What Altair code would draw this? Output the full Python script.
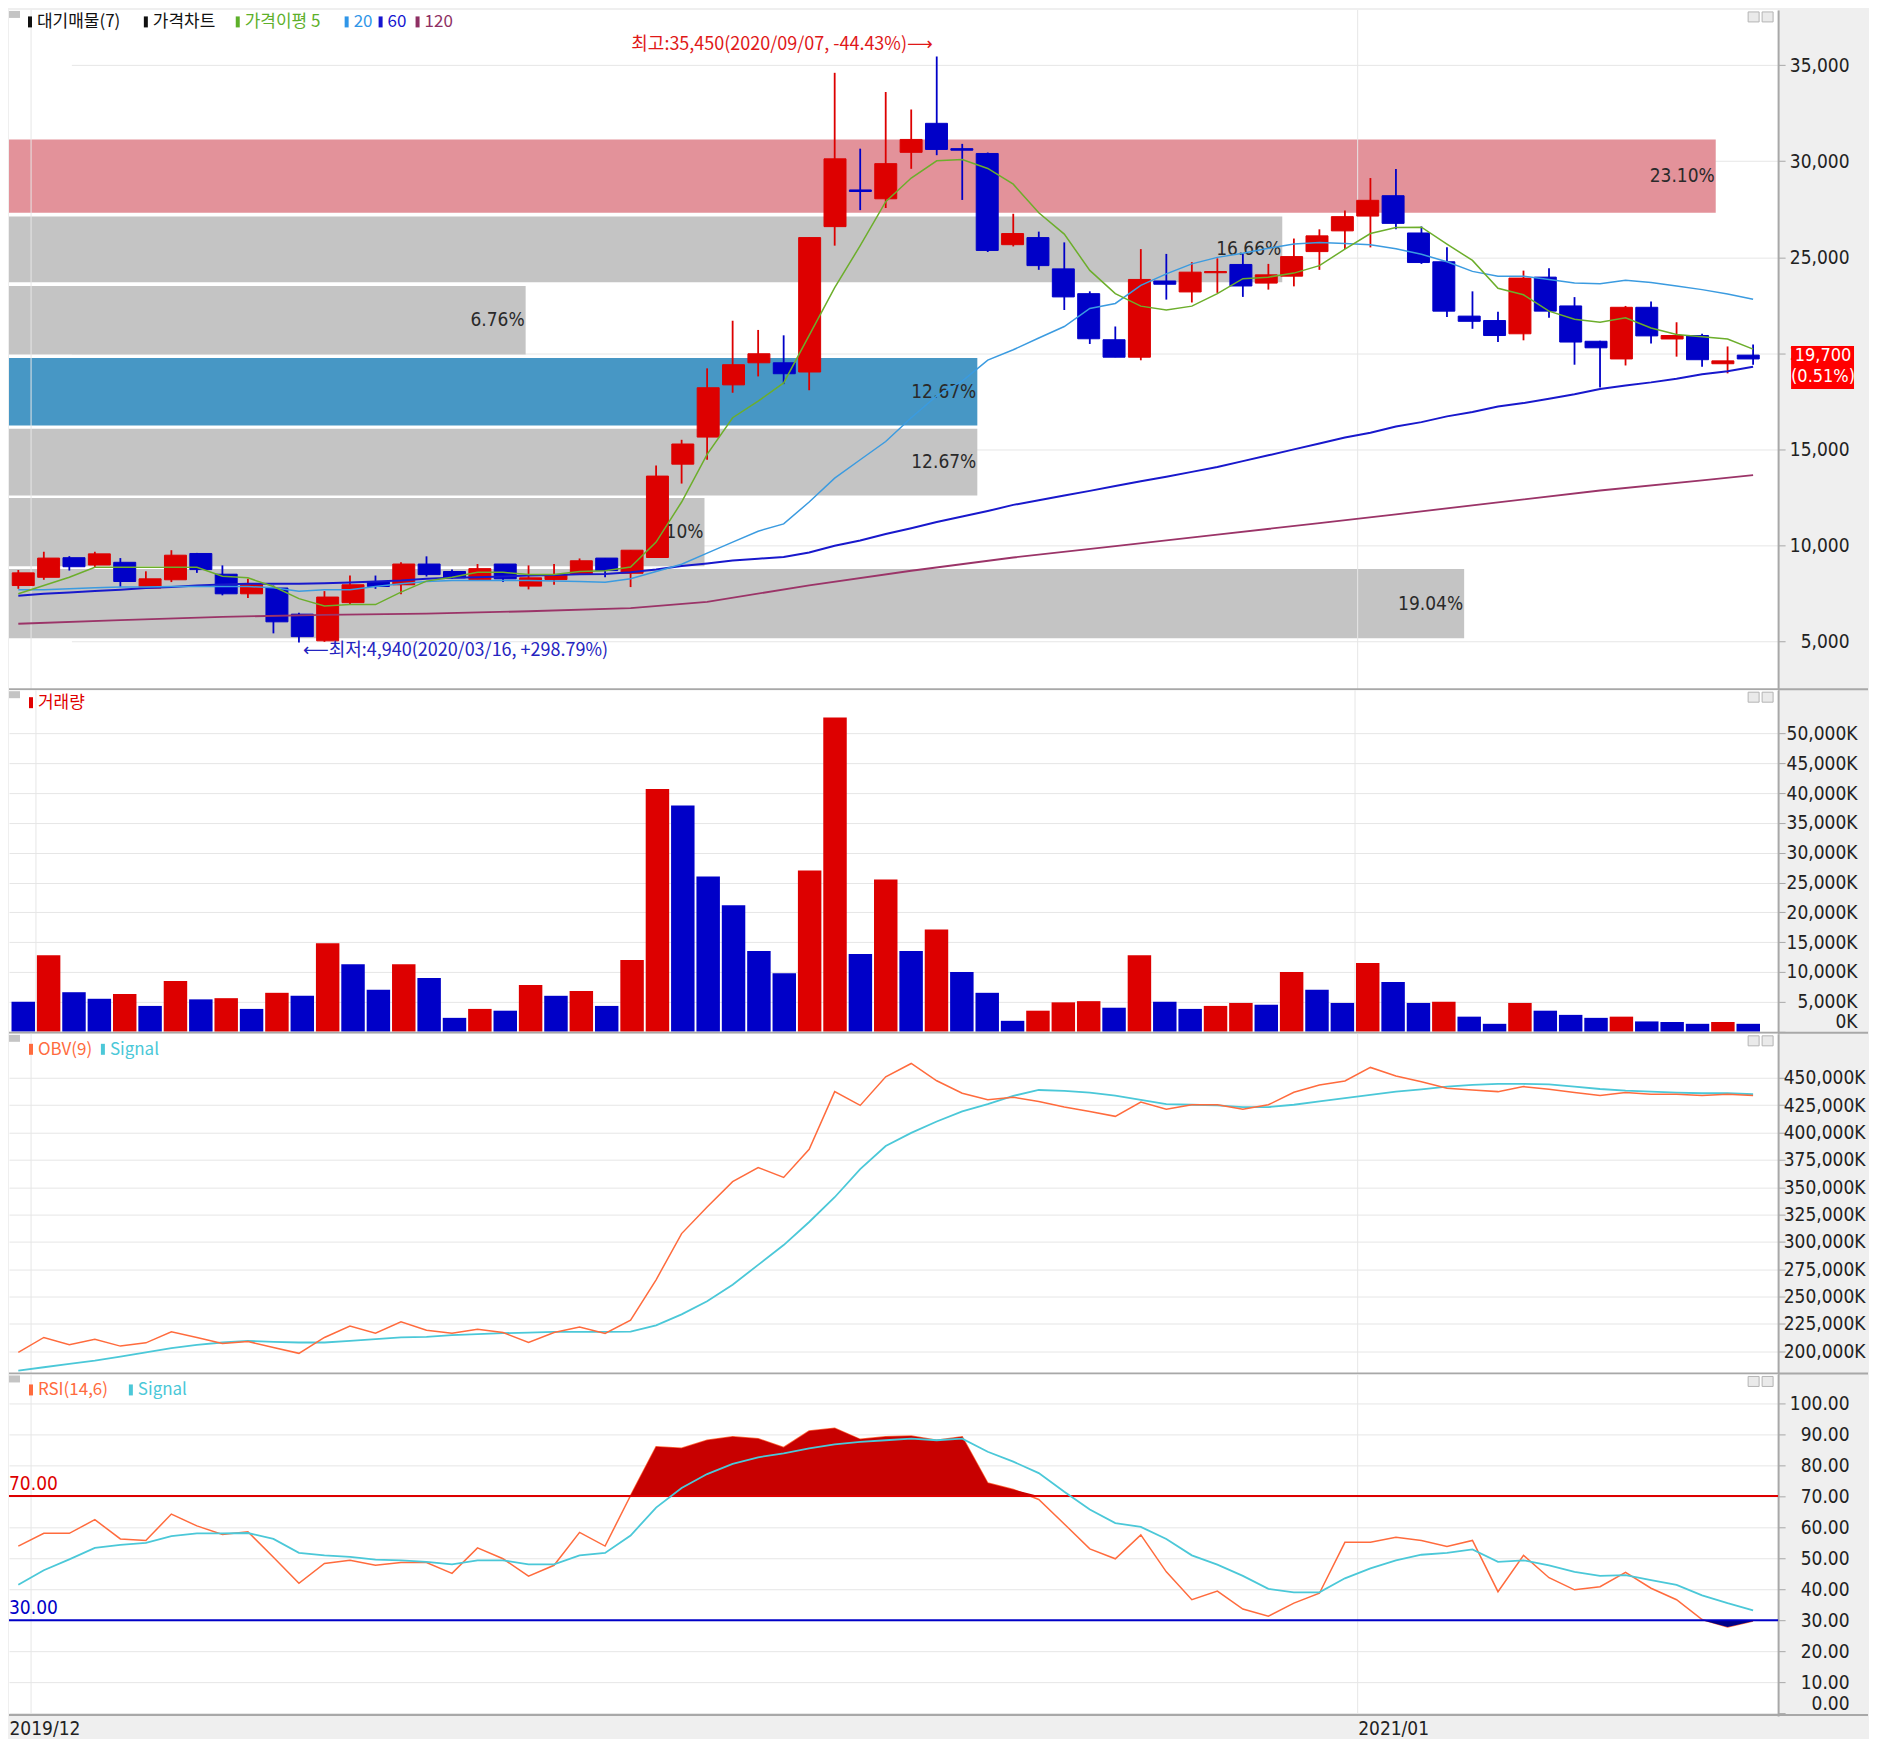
import altair as alt
import pandas as pd
import numpy as np

# weekly candles, KRW
opens = [7900, 8330, 9350, 8970, 9110, 7770, 8200, 9570, 8490, 7470,
         7770, 6410, 5020, 7010, 8080, 7940, 9020, 8630, 8210, 9020,
         7870, 8210, 8500, 9330, 8540, 9360, 14220, 15630, 18350, 19500,
         19500, 19020, 26590, 28500, 28040, 30460, 31970, 30650, 30400, 25650,
         26020, 24390, 23100, 20700, 19790, 23760, 23190, 24190, 24620, 23650,
         24010, 25290, 26370, 27140, 28200, 26260, 24760, 21930, 21700, 21010,
         23960, 22460, 20620, 19700, 22390, 20740, 20920, 19450, 19900]
highs = [8710, 9660, 9430, 9660, 9330, 8640, 9740, 9600, 8950, 8250,
         7900, 6480, 7610, 8420, 8420, 9110, 9420, 8730, 9020, 9020,
         8950, 9020, 9310, 9330, 9740, 14150, 15490, 19210, 21690, 21210,
         20930, 26020, 34600, 30650, 33600, 32690, 35450, 30900, 30450, 27260,
         26330, 25770, 23220, 21390, 25420, 25170, 24740, 24940, 25170, 24650,
         25970, 26450, 27430, 29120, 29590, 26600, 25520, 23220, 22160, 24300,
         24420, 22920, 20650, 22460, 22690, 21610, 21010, 20350, 20450]
lows = [7730, 8200, 8680, 8850, 7820, 7730, 8080, 8560, 7390, 7250,
        5410, 4940, 4970, 6910, 7730, 7440, 8370, 8250, 8160, 8080,
        7700, 7940, 8450, 8330, 7820, 9340, 13210, 14450, 17940, 18790,
        18390, 18070, 25600, 27450, 27560, 29600, 30310, 27980, 25270, 25560,
        24340, 22250, 20480, 19790, 19630, 22790, 22640, 23140, 22930, 23310,
        23480, 24340, 25420, 25510, 26450, 24650, 21890, 21270, 20580, 20670,
        21840, 19400, 18210, 19360, 20510, 19820, 19290, 18950, 19400]
closes = [8560, 9330, 8880, 9550, 8110, 8250, 9480, 8730, 7470, 7990,
          6010, 5240, 7300, 7940, 7850, 9020, 8470, 8300, 8780, 8250,
          8300, 8470, 9190, 8680, 9740, 13600, 15270, 18200, 19400, 19970,
          18930, 26020, 30120, 28420, 29870, 31130, 30610, 30570, 25350, 26230,
          24560, 22930, 20750, 19790, 23840, 23590, 24220, 24250, 23500, 24080,
          25030, 26110, 27110, 27960, 26760, 24720, 22190, 21660, 20920, 23910,
          22190, 20580, 20280, 22390, 20900, 20920, 19660, 19600, 19700]
# volume in thousand shares
volumes = [5000, 12800, 6600, 5500, 6300, 4300, 8500, 5400, 5600, 3800,
           6500, 6000, 14800, 11300, 7000, 11300, 9000, 2300, 3800, 3500,
           7800, 6000, 6800, 4300, 12000, 40700, 37900, 26000, 21200, 13500,
           9800, 27000, 52700, 13000, 25500, 13500, 17100, 10000, 6500, 1800,
           3500, 4900, 5100, 4000, 12800, 5000, 3800, 4300, 4800, 4500,
           10000, 7000, 4800, 11500, 8300, 4800, 5000, 2500, 1300, 4800,
           3500, 2800, 2300, 2500, 1700, 1600, 1300, 1600, 1300]

ma5 = [7470, 7900, 8330, 8850, 8850, 8850, 8850, 8850, 8380, 8300,
       7850, 7220, 6840, 6910, 6910, 7560, 8130, 8330, 8590, 8590,
       8470, 8470, 8630, 8670, 8860, 10160, 12250, 14730, 16640, 17500,
       18450, 20930, 23410, 25600, 27890, 29120, 30020, 30080, 29620, 28800,
       27310, 26200, 24310, 23100, 22450, 22250, 22450, 23100, 23880, 23960,
       24170, 24560, 25420, 26230, 26550, 26560, 25680, 24830, 23380, 23040,
       22190, 21770, 21610, 21840, 21310, 20970, 20850, 20740, 20210]
ma20 = [7680, 7680, 7730, 7780, 7820, 7820, 7850, 7850, 7850, 7850,
        7780, 7600, 7680, 7680, 7850, 7990, 8110, 8160, 8160, 8160,
        8160, 8130, 8110, 8070, 8250, 8630, 9010, 9590, 10160, 10730,
        11110, 12250, 13490, 14450, 15400, 16640, 17780, 18550, 19640, 20180,
        20790, 21390, 22330, 22590, 23530, 24130, 24650, 24990, 25200, 25460,
        25680, 25770, 25710, 25650, 25440, 25150, 24760, 24260, 24010, 24010,
        23840, 23660, 23610, 23800, 23680, 23500, 23310, 23080, 22810]
ma60 = [7370, 7470, 7540, 7610, 7680, 7770, 7820, 7900, 7950, 7990,
        7990, 7990, 8020, 8060, 8110, 8160, 8250, 8300, 8330, 8370,
        8420, 8450, 8490, 8500, 8590, 8730, 8920, 9050, 9200, 9300,
        9390, 9620, 9970, 10250, 10580, 10880, 11210, 11490, 11780, 12100,
        12340, 12590, 12830, 13080, 13330, 13570, 13820, 14070, 14380, 14680,
        14990, 15300, 15610, 15860, 16180, 16410, 16710, 16940, 17220, 17400,
        17630, 17860, 18140, 18320, 18480, 18670, 18900, 19060, 19290]
ma120_bars = [0, 4, 8, 12, 16, 20, 24, 27, 31, 35, 39, 43, 47, 51, 54, 58, 62, 66, 68]
ma120_vals = [5910, 6100, 6270, 6370, 6440, 6560, 6720, 7050, 7910, 8670,
              9360, 9950, 10550, 11150, 11610, 12230, 12850, 13380, 13650]

# OBV in thousand
obv = [199000, 212700, 206000, 211100, 204800, 207800, 217800, 212700, 207200, 209000,
       203600, 198200, 212700, 223200, 216600, 227100, 219300, 216600, 220200, 217200,
       208100, 217200, 222300, 216300, 228600, 265400, 307600, 331800, 355000, 368000,
       358900, 384600, 437300, 424700, 450900, 463000, 447200, 435800, 429800, 432200,
       428300, 423200, 419200, 414700, 427700, 421300, 425300, 425300, 421300, 425300,
       436700, 443400, 447000, 459400, 451500, 446400, 440300, 438800, 437300, 441900,
       439400, 436400, 433700, 436400, 434900, 434900, 433700, 434900, 433700]
obv_signal = [182500, 185500, 188500, 191500, 195200, 199000, 203000, 206000, 208100, 209600,
              208700, 208100, 208100, 209600, 211100, 212700, 213300, 214800, 215700, 216600,
              217200, 217800, 217800, 217800, 218100, 223800, 233800, 245800, 260900, 279000,
              297100, 318200, 340800, 366500, 387600, 399600, 410000, 419200, 425900, 433400,
              438800, 437900, 436400, 433700, 429800, 425900, 425300, 424700, 423200, 423200,
              425300, 428300, 431300, 434300, 437300, 439400, 441900, 443400, 444300, 444300,
              444000, 441900, 439700, 438200, 437300, 436400, 435800, 435800, 434900]
rsi = [53.9, 58.0, 58.0, 62.4, 56.2, 55.7, 64.2, 60.4, 57.6, 58.5,
       50.3, 41.9, 48.3, 49.3, 47.7, 48.6, 48.6, 45.1, 53.3, 49.8,
       44.2, 47.7, 58.3, 53.9, 70.2, 85.9, 85.4, 88.0, 89.1, 88.5,
       85.7, 91.0, 91.9, 88.3, 89.1, 89.4, 88.0, 89.1, 74.2, 72.1,
       68.9, 61.0, 53.0, 49.8, 57.5, 45.6, 36.6, 39.4, 33.6, 31.3,
       35.5, 38.7, 55.1, 55.1, 56.7, 55.7, 53.8, 55.7, 39.2, 50.9,
       43.7, 39.8, 40.8, 45.4, 40.3, 36.6, 30.2, 27.8, 29.7]
rsi_signal = [41.4, 46.1, 49.6, 53.3, 54.3, 54.9, 57.1, 58.0, 58.0, 58.1,
              56.2, 51.7, 50.9, 50.4, 49.5, 49.3, 48.8, 48.0, 49.3, 49.3,
              48.0, 48.0, 50.9, 51.7, 57.3, 66.3, 72.6, 77.1, 80.4, 82.5,
              83.8, 85.4, 86.7, 87.5, 88.0, 88.5, 88.0, 88.5, 84.3, 81.1,
              77.4, 71.4, 65.7, 61.3, 60.1, 56.2, 50.9, 47.9, 44.3, 40.1,
              39.0, 39.0, 43.5, 46.7, 49.3, 51.1, 51.7, 52.8, 48.8, 49.3,
              47.7, 45.6, 44.3, 44.5, 42.9, 41.4, 38.0, 35.5, 33.2]

# supply bands (대기매물)
band_lo = [27314, 23691, 19926, 16233, 12592, 8899, 5155]
band_hi = [31126, 27123, 23504, 19746, 16062, 12455, 8762]
band_pct = [23.10, 16.66, 6.76, 12.67, 12.67, 9.10, 19.04]
band_kind = ['max', 'other', 'other', 'now', 'other', 'other', 'other']

grid_bars = [1, 53]
label_bars = [0, 53]
month_labels = ['2019/12', '2021/01']
rsi_levels = [70, 30]

hi_text = '최고:35,450(2020/09/07, -44.43%)⟶'
lo_text = '⟵최저:4,940(2020/03/16, +298.79%)'
price_legend = ['대기매물(7)', '가격차트', '가격이평 5', '20', '60', '120']

# ---- style ----
W = 1771
H_P, H_V, H_O, H_R = 681, 344, 341, 342
X_DOM = [-0.365, 68.98]
RED, BLUE = '#DD0000', '#0000C8'
GRID, SEP = '#E6E6E6', '#A8A8A8'
ORANGE, CYAN = '#FF6B3D', '#4BC8D8'
KR = "'Noto Sans CJK KR', 'DejaVu Sans', sans-serif"
AXF = "'Liberation Sans Narrow', 'DejaVu Sans Condensed', 'Liberation Sans', sans-serif"

n = len(closes)
df = pd.DataFrame({'i': range(n), 'open': opens, 'high': highs, 'low': lows,
                   'close': closes, 'vol': volumes, 'ma5': ma5, 'ma20': ma20,
                   'ma60': ma60, 'obv': obv, 'obvs': obv_signal,
                   'rsi': rsi, 'rsis': rsi_signal})
df['dir'] = np.where(df['close'] >= df['open'], 'up', 'down')
df['blo'] = df[['open', 'close']].min(axis=1)
df['bhi'] = df[['open', 'close']].max(axis=1)
df['vdir'] = np.where(df['vol'] > df['vol'].shift(1), 'up', 'down')
df['hi70'] = np.maximum(df['rsi'], 70)
df['lo30'] = np.minimum(df['rsi'], 30)
df['b70'] = 70
df['b30'] = 30

bands = pd.DataFrame({'lo': band_lo, 'hi': band_hi, 'pct': band_pct, 'kind': band_kind})
bands['zero'] = 0
bands['mid'] = (bands['lo'] + bands['hi']) / 2
bands['label'] = [f'{p:.2f}%' for p in band_pct]

ma120 = pd.DataFrame({'i': ma120_bars, 'v': ma120_vals})
grid_df = pd.DataFrame({'pos': [b - 0.5 for b in grid_bars]})
ONE = pd.DataFrame({'k': [0]})
last = df.iloc[[n - 1]].copy()
last['t1'] = f"{closes[-1]:,}"
last['t2'] = f"({(closes[-1] / closes[-2] - 1) * 100:.2f}%)"
hi_row = df.loc[[df['high'].idxmax()]].assign(label=hi_text)
lo_row = df.loc[[df['low'].idxmin()]].assign(label=lo_text)

xs = alt.Scale(domain=X_DOM, nice=False, zero=False)
updown = alt.Scale(domain=['up', 'down'], range=[RED, BLUE])


def yaxis(values, pad, fmt=None, expr=None):
    kw = dict(orient='right', values=values, title=None, grid=True, gridColor=GRID,
              domain=True, domainColor=SEP, domainWidth=2, ticks=True, tickColor=SEP,
              tickSize=7, labelAlign='right', labelPadding=pad, labelFont=AXF,
              labelFontSize=19, labelColor='#222', labelFlush=5, labelOverlap=False)
    if fmt:
        kw['format'] = fmt
    if expr:
        kw['labelExpr'] = expr
    return alt.Axis(**kw)


def X(field='i', axis=None):
    return alt.X(f'{field}:Q', scale=xs, axis=axis)


def header(items, yc):
    out = []
    for x0, label, color in items:
        out.append(alt.Chart(ONE).mark_rect(color=color).encode(
            x=alt.value(x0), x2=alt.value(x0 + 4), y=alt.value(yc - 6), y2=alt.value(yc + 5)))
        out.append(alt.Chart(ONE).mark_text(text=label, align='left', baseline='middle',
                                            font=KR, fontSize=17, color=color).encode(
            x=alt.value(x0 + 9), y=alt.value(yc)))
    return out


def chrome(h):
    sq = alt.Chart(ONE).mark_rect(color='#C4C4C4').encode(
        x=alt.value(0), x2=alt.value(11), y=alt.value(1), y2=alt.value(8))
    b1 = alt.Chart(ONE).mark_rect(fill='#EAEAEA', stroke='#B4B4B4', strokeWidth=1).encode(
        x=alt.value(W - 30), x2=alt.value(W - 19), y=alt.value(2), y2=alt.value(12))
    b2 = alt.Chart(ONE).mark_rect(fill='#EAEAEA', stroke='#B4B4B4', strokeWidth=1).encode(
        x=alt.value(W - 16), x2=alt.value(W - 5), y=alt.value(2), y2=alt.value(12))
    sep = alt.Chart(ONE).mark_rule(color=SEP, strokeWidth=2).encode(
        x=alt.value(0), x2=alt.value(W + 90), y=alt.value(h - 1))
    return [sq, b1, b2, sep]


vgrid = alt.Chart(grid_df).mark_rule(color=GRID, strokeWidth=1).encode(x=X('pos'))

# ---- price panel ----
ps = alt.Scale(domain=[2450, 37875], nice=False, zero=False)
pax = yaxis(list(range(5000, 35001, 5000)), 64, fmt=',d')
band_scale = alt.Scale(domain=[0, 20, 23.1], range=[0, 1544 * W / 1787, 1724 * W / 1787])


def PY(field):
    return alt.Y(f'{field}:Q', scale=ps, axis=pax)


band_rect = alt.Chart(bands).mark_rect().encode(
    x=alt.X('zero:Q', scale=band_scale, axis=None), x2='pct:Q',
    y=PY('lo'), y2='hi:Q',
    color=alt.Color('kind:N', scale=alt.Scale(domain=['max', 'now', 'other'],
                                              range=['#E3929A', '#4797C5', '#C4C4C4']),
                    legend=None))
band_text = alt.Chart(bands).mark_text(align='right', baseline='middle', dx=-1,
                                       font=AXF, fontSize=19, color='#2A2A2A').encode(
    x=alt.X('pct:Q', scale=band_scale, axis=None), y=PY('mid'), text='label:N')
wick = alt.Chart(df).mark_rule(strokeWidth=1.8).encode(
    x=X(), y=PY('low'), y2='high:Q', color=alt.Color('dir:N', scale=updown, legend=None))
body = alt.Chart(df).mark_bar(size=22, strokeWidth=1).encode(
    x=X(), y=PY('blo'), y2='bhi:Q',
    color=alt.Color('dir:N', scale=updown, legend=None),
    stroke=alt.Stroke('dir:N', scale=updown, legend=None))
ma_lines = [alt.Chart(df).mark_line(color=c, strokeWidth=w).encode(x=X(), y=PY(f))
            for f, c, w in [('ma60', '#1818CC', 2), ('ma20', '#3B9BE0', 1.5), ('ma5', '#6CAE2B', 1.5)]]
ma120_line = alt.Chart(ma120).mark_line(color='#9B3468', strokeWidth=1.8).encode(x=X(), y=PY('v'))
hi_lbl = alt.Chart(hi_row).mark_text(align='right', baseline='middle', dx=-4, dy=-12,
                                     font=KR, fontSize=18, color='#E01818').encode(
    x=X(), y=PY('high'), text='label:N')
lo_lbl = alt.Chart(lo_row).mark_text(align='left', baseline='middle', dx=4, dy=9,
                                     font=KR, fontSize=18, color='#2424C0').encode(
    x=X(), y=PY('low'), text='label:N')
pbox = alt.Chart(last).mark_rect(color='#FF0000', yOffset=-13, y2Offset=30).encode(
    x=alt.value(W + 13), x2=alt.value(W + 76), y=PY('close'), y2='close:Q')
pbox_t1 = alt.Chart(last).mark_text(align='center', baseline='middle', dy=-3, font=AXF,
                                    fontSize=18, color='white').encode(
    x=alt.value(W + 45), y=PY('close'), text='t1:N')
pbox_t2 = alt.Chart(last).mark_text(align='center', baseline='middle', dy=18, font=AXF,
                                    fontSize=18, color='white').encode(
    x=alt.value(W + 45), y=PY('close'), text='t2:N')

leg_colors = ['#111111', '#111111', '#5DB02A', '#2F96E8', '#1515D0', '#8E2F63']
leg_x = [19, 135, 227, 336, 370, 407]
price = alt.layer(
    band_rect, band_text, vgrid, wick, body, *ma_lines, ma120_line, hi_lbl, lo_lbl,
    pbox, pbox_t1, pbox_t2,
    *header(list(zip(leg_x, price_legend, leg_colors)), 12.5), *chrome(H_P)
).resolve_scale(x='independent', color='independent', stroke='independent').properties(
    width=W, height=H_P)

# ---- volume panel ----
vs = alt.Scale(domain=[-380, 57260], nice=False, zero=False)
vax = yaxis(list(range(0, 50001, 5000)), 72, expr="format(datum.value, ',') + 'K'")
vbars = alt.Chart(df).mark_bar(size=23.5).encode(
    x=X(), y=alt.Y('vol:Q', scale=vs, axis=vax),
    color=alt.Color('vdir:N', scale=updown, legend=None))
volume = alt.layer(vgrid, vbars, *header([(20, '거래량', '#E00000')], 13), *chrome(H_V)).properties(
    width=W, height=H_V)

# ---- OBV panel ----
os_ = alt.Scale(domain=[178900, 490100], nice=False, zero=False)
oax = yaxis(list(range(200000, 450001, 25000)), 80, expr="format(datum.value, ',') + 'K'")
obv_line = alt.Chart(df).mark_line(color=ORANGE, strokeWidth=1.5).encode(
    x=X(), y=alt.Y('obv:Q', scale=os_, axis=oax))
obvs_line = alt.Chart(df).mark_line(color=CYAN, strokeWidth=1.8).encode(
    x=X(), y=alt.Y('obvs:Q', scale=os_, axis=oax))
obvp = alt.layer(vgrid, obvs_line, obv_line,
                 *header([(20, 'OBV(9)', ORANGE), (92, 'Signal', CYAN)], 16),
                 *chrome(H_O)).properties(width=W, height=H_O)

# ---- RSI panel ----
rs = alt.Scale(domain=[-0.9, 109.2], nice=False, zero=False)
rax = yaxis(list(range(0, 101, 10)), 64, fmt='.2f')
lab_pos = [max(b - 0.5, X_DOM[0]) for b in label_bars]
lab_expr = ' : '.join(f"datum.value < {p + 0.1} ? '{t}'" for p, t in zip(lab_pos[:-1], month_labels[:-1]))
lab_expr = f"{lab_expr} : '{month_labels[-1]}'"
xax = alt.Axis(orient='bottom', values=lab_pos, labelExpr=lab_expr, labelAlign='left',
               labelBaseline='top', labelPadding=3, labelFont=AXF, labelFontSize=19,
               labelColor='#222', ticks=False, domain=False, grid=False, labelFlush=False,
               labelOverlap=False, title=None)


def RX():
    return alt.X('i:Q', scale=xs, axis=xax)


lv = pd.DataFrame({'lvl': rsi_levels, 'kind': ['hi', 'lo'],
                   'label': [f'{v:.2f}' for v in rsi_levels]})
lvl_scale = alt.Scale(domain=['hi', 'lo'], range=['#CC0000', '#00008F'])
rsi_line = alt.Chart(df).mark_line(color=ORANGE, strokeWidth=1.5).encode(
    x=RX(), y=alt.Y('rsi:Q', scale=rs, axis=rax))
fill_hi = alt.Chart(df).mark_area(color='#C80000').encode(
    x=RX(), y=alt.Y('hi70:Q', scale=rs, axis=rax), y2='b70:Q')
fill_lo = alt.Chart(df).mark_area(color='#000088').encode(
    x=RX(), y=alt.Y('lo30:Q', scale=rs, axis=rax), y2='b30:Q')
lvl_rule = alt.Chart(lv).mark_rule(strokeWidth=2).encode(
    y=alt.Y('lvl:Q', scale=rs, axis=rax), color=alt.Color('kind:N', scale=lvl_scale, legend=None))
lvl_text = alt.Chart(lv).mark_text(align='left', baseline='bottom', dy=-2, font=AXF,
                                   fontSize=19).encode(
    x=alt.value(0), y=alt.Y('lvl:Q', scale=rs, axis=rax), text='label:N',
    color=alt.Color('kind:N', scale=lvl_scale, legend=None))
rsis_line = alt.Chart(df).mark_line(color=CYAN, strokeWidth=1.8).encode(
    x=RX(), y=alt.Y('rsis:Q', scale=rs, axis=rax))
rvgrid = alt.Chart(grid_df).mark_rule(color=GRID, strokeWidth=1).encode(
    x=alt.X('pos:Q', scale=xs, axis=xax))
rsip = alt.layer(rvgrid, rsi_line, fill_hi, fill_lo, lvl_rule, lvl_text, rsis_line,
                 *header([(20, 'RSI(14,6)', ORANGE), (120, 'Signal', CYAN)], 16),
                 *chrome(H_R)).properties(width=W, height=H_R)

chart = alt.vconcat(price, volume, obvp, rsip, spacing=0, bounds='flush').properties(
    background='#EFEFEF', padding=0
).configure_view(stroke=None, fill='white')

chart.save("out.html", embed_options={"renderer": "svg", "actions": False})
